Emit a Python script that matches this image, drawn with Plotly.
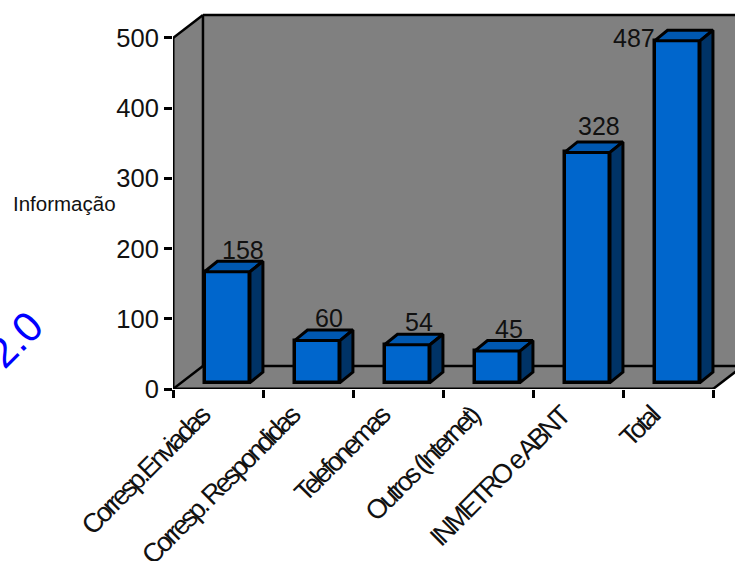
import plotly.graph_objects as go

categories = ["Corresp.Enviadas", "Corresp. Respondidas", "Telefonemas",
              "Outros (Internet)", "INMETRO e ABNT", "Total"]
values = [158, 60, 54, 45, 328, 487]
y_ticks = [0, 100, 200, 300, 400, 500]

# Pseudo-3D geometry, in axis units
DEPTH_X, DEPTH_Y = 0.333, 32.8      # floor / wall depth
BAR_DX, BAR_DY = 0.144, 15          # bar depth
BAR_LEFT, BAR_W = 0.35, 0.505       # bar offset in each category slot
BAR_BASE = 9                        # bars stand part-way back on the floor
X_END = 6.244
Y_TOP = 532.8
Y_MAX = 547
WALL = "#808080"
FRONT, TOP, SIDE = "#0066CC", "#0058B0", "#003366"
FONT = "Liberation Sans"
PLOT_W = 562

slots = list(range(len(categories)))
n = len(categories)
fig = go.Figure()


def wall(xs, ys):
    path = "M" + " L".join(f"{x},{y}" for x, y in zip(xs, ys)) + " Z"
    fig.add_shape(type="path", path=path, layer="below", fillcolor=WALL,
                  line=dict(width=0))


def edge(x0, y0, x1, y1):
    fig.add_shape(type="line", x0=x0, y0=y0, x1=x1, y1=y1, layer="below",
                  line=dict(color="black", width=2.5))


# Back wall, side wall and floor
wall([DEPTH_X, X_END + 0.1, X_END + 0.1, DEPTH_X], [DEPTH_Y, DEPTH_Y, Y_TOP, Y_TOP])
wall([0, DEPTH_X, DEPTH_X, 0], [0, DEPTH_Y, Y_TOP, 500])
wall([0, n, n + DEPTH_X, DEPTH_X], [0, 0, DEPTH_Y, DEPTH_Y])
edge(DEPTH_X, DEPTH_Y, DEPTH_X, Y_TOP)
edge(DEPTH_X, Y_TOP, X_END + 0.1, Y_TOP)
edge(DEPTH_X, DEPTH_Y, X_END + 0.1, DEPTH_Y)
edge(0, 500, DEPTH_X, Y_TOP)
edge(0, 0, DEPTH_X, DEPTH_Y)
edge(n, 0, n + DEPTH_X, DEPTH_Y)

# Front faces of the bars
fig.add_trace(go.Bar(
    x=[s + BAR_LEFT + BAR_W / 2 for s in slots], y=values, base=BAR_BASE,
    width=BAR_W, marker=dict(color=FRONT, line=dict(color="black", width=3.5)),
    showlegend=False, hoverinfo="skip",
))

# Top and side faces of the bars
for s, v in zip(slots, values):
    l = s + BAR_LEFT
    r = l + BAR_W
    t = v + BAR_BASE
    fig.add_trace(go.Scatter(
        x=[l, l + BAR_DX, r + BAR_DX, r, l], y=[t, t + BAR_DY, t + BAR_DY, t, t],
        mode="lines", fill="toself", fillcolor=TOP,
        line=dict(color="black", width=3), showlegend=False, hoverinfo="skip",
    ))
    fig.add_trace(go.Scatter(
        x=[r, r + BAR_DX, r + BAR_DX, r, r],
        y=[t, t + BAR_DY, BAR_BASE + BAR_DY, BAR_BASE, t],
        mode="lines", fill="toself", fillcolor=SIDE,
        line=dict(color="black", width=3), showlegend=False, hoverinfo="skip",
    ))

# Front axis lines
fig.add_trace(go.Scatter(x=[0, 0, n], y=[500, 0, 0], mode="lines", cliponaxis=False,
                         line=dict(color="black", width=3),
                         showlegend=False, hoverinfo="skip"))

# Value labels sit above each bar; the tallest one is pulled down and left
for s, v in zip(slots, values):
    dx, dy = (0.73, 41)
    if v == 158:
        dx, dy = (0.778, 40)
    if v == 328:
        dy = 46
    if v == 487:
        dx, dy = (0.12, 13)
    fig.add_annotation(x=s + dx, y=v + dy, text=str(v), showarrow=False,
                       font=dict(family=FONT, size=25, color="#111111"))

fig.add_annotation(xref="paper", x=-109 / PLOT_W, xanchor="center", y=264.5,
                   text="Informação", showarrow=False,
                   font=dict(family=FONT, size=20.5, color="#111111"))
fig.add_annotation(xref="paper", x=-198 / PLOT_W, y=70, text="2.0", showarrow=False,
                   textangle=-45, font=dict(family=FONT, size=42, color="#0000FF"))

fig.update_layout(
    width=735, height=561, autosize=False,
    margin=dict(l=173, r=0, t=5, b=172),
    paper_bgcolor="white", plot_bgcolor="white", bargap=0, showlegend=False,
    xaxis=dict(
        range=[0, X_END], automargin=False, showgrid=False, zeroline=False, showline=False,
        tickmode="array", tickvals=[s + 0.31 for s in slots], ticktext=categories,
        tickangle=-45, ticks="outside", ticklen=1, tickcolor="rgba(0,0,0,0)",
        ticklabelstandoff=-1,
        tickfont=dict(family=FONT, size=27, color="#111111"),
        minor=dict(tickmode="array", tickvals=list(range(n + 1)), ticks="outside",
                   ticklen=8, tickwidth=2.5, tickcolor="black"),
    ),
    yaxis=dict(
        range=[0, Y_MAX], automargin=False, showgrid=False, zeroline=False, showline=False,
        tickmode="array", tickvals=y_ticks, ticks="outside", ticklen=8,
        tickwidth=2.5, tickcolor="black",
        tickfont=dict(family=FONT, size=25.5, color="#111111"),
    ),
)

tight_labels = """
var s = document.createElement('style');
s.textContent = '.xtick text{letter-spacing:-3px}';
document.head.appendChild(s);
"""
fig.write_html("out.html", post_script=tight_labels)
